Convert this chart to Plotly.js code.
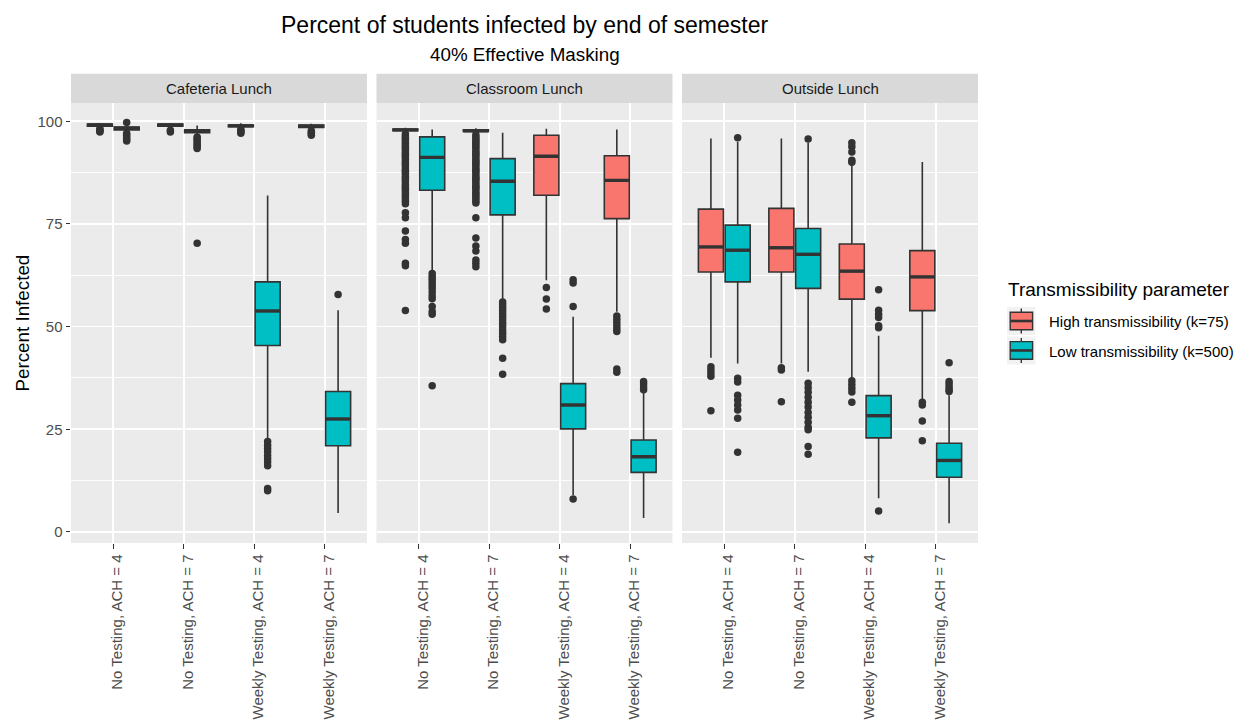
<!DOCTYPE html>
<html>
<head>
<meta charset="utf-8">
<script src="https://cdn.plot.ly/plotly-3.0.1.min.js"></script>
<style>html,body{margin:0;padding:0;background:#fff;}#chart{width:1239px;height:726px;}</style>
</head>
<body>
<div id="chart"></div>
<script>
// ---------------- data ----------------
const categories = ["No Testing, ACH = 4", "No Testing, ACH = 7", "Weekly Testing, ACH = 4", "Weekly Testing, ACH = 7"];
const panels = ["Cafeteria Lunch", "Classroom Lunch", "Outside Lunch"];
const groupNames = ["High transmissibility (k=75)", "Low transmissibility (k=500)"];
const legendTitle = "Transmissibility parameter";

// box stats per category: [lower whisker, q1, median, q3, upper whisker]
const cafeteriaHighStats = [[98.4, 98.8, 99.1, 99.3, 99.6], [98.3, 98.8, 99.1, 99.3, 99.6], [98.2, 98.7, 98.9, 99.1, 99.5], [98.0, 98.5, 98.8, 99.1, 99.4]];
const cafeteriaLowStats  = [[97.4, 97.9, 98.3, 98.6, 99.2], [96.7, 97.2, 97.6, 97.9, 99.0], [22.5, 45.4, 53.8, 60.9, 81.9], [4.6, 21.0, 27.5, 34.2, 54.0]];
const classroomHighStats = [[97.3, 97.7, 97.9, 98.1, 98.4], [97.1, 97.5, 97.7, 97.9, 98.3], [61.3, 82.0, 91.5, 96.6, 98.2], [53.6, 76.3, 85.6, 91.6, 98.0]];
const classroomLowStats  = [[63.8, 83.2, 91.2, 96.2, 98.0], [56.4, 77.2, 85.4, 90.9, 97.2], [9.0, 25.1, 30.9, 36.1, 52.4], [3.4, 14.5, 18.3, 22.4, 33.8]];
const outsideHighStats   = [[42.4, 63.3, 69.4, 78.6, 95.8], [41.0, 63.3, 69.2, 78.8, 95.8], [37.4, 56.7, 63.5, 70.1, 89.5], [32.1, 53.9, 62.1, 68.5, 90.1]];
const outsideLowStats    = [[41.0, 60.9, 68.6, 74.7, 95.0], [39.0, 59.3, 67.6, 73.9, 94.8], [8.2, 22.9, 28.3, 33.2, 47.8], [2.1, 13.3, 17.4, 21.6, 33.3]];

// outliers per category
const cafeteriaHighOutliers = [[98.2, 97.9, 97.6, 97.4], [97.8, 97.4], [98.0, 97.7, 97.4, 97.1], [97.7, 97.3, 96.9, 96.6]];
const cafeteriaLowOutliers  = [[99.7, 97.1, 96.6, 96.1, 95.6, 95.2], [96.2, 95.8, 95.3, 94.8, 94.3, 93.8, 93.4, 70.3], [22.0, 21.1, 20.3, 19.5, 18.6, 17.8, 17.0, 16.1, 10.6, 10.0], [57.8]];
const classroomHighOutliers = [
  [96.9, 96.4, 96.0, 95.6, 95.1, 94.6, 94.1, 93.7, 93.2, 92.6, 92.1, 91.7, 91.2, 90.6, 90.1, 89.7, 89.2, 88.6, 88.1, 87.7, 87.2, 86.6, 86.1, 85.7, 85.2, 84.6, 84.1, 83.7, 83.2, 82.6, 82.1, 81.6, 81.1, 80.5, 79.9, 77.7, 76.5, 73.3, 71.2, 70.3, 65.4, 64.8, 53.9],
  [96.7, 96.2, 95.7, 95.2, 94.8, 94.3, 93.8, 93.3, 92.7, 92.2, 91.8, 91.3, 90.7, 90.2, 89.8, 89.3, 88.7, 88.2, 87.8, 87.3, 86.7, 86.2, 85.8, 85.3, 84.7, 84.2, 83.8, 83.3, 82.7, 82.2, 81.7, 81.2, 80.6, 80.1, 76.5, 71.6, 69.6, 68.4, 66.2, 65.4, 64.6],
  [59.5, 56.7, 54.3],
  [52.6, 51.8, 51.0, 50.2, 49.5, 48.8, 39.7, 38.9]];
const classroomLowOutliers  = [
  [62.9, 62.2, 61.5, 60.8, 60.0, 59.3, 58.4, 57.5, 56.8, 54.9, 53.7, 53.0, 35.6],
  [56.0, 55.3, 54.6, 53.9, 53.1, 52.4, 51.6, 50.8, 50.0, 49.2, 48.4, 47.6, 46.8, 42.3, 38.4],
  [61.4, 60.6, 54.9, 8.0],
  [36.6, 36.0, 35.3, 34.6]];
const outsideHighOutliers = [[40.2, 39.4, 38.7, 37.9, 29.5], [40.0, 39.4, 31.7], [94.8, 93.8, 92.5, 90.5, 90.0, 36.8, 35.9, 35.0, 34.1, 31.6], [31.6, 30.9, 27.0, 22.2]];
const outsideLowOutliers  = [
  [96.0, 37.4, 36.5, 33.3, 32.1, 30.9, 29.7, 27.7, 19.4],
  [95.7, 36.2, 35.1, 34.0, 32.8, 31.6, 30.4, 29.1, 27.9, 26.7, 25.5, 24.9, 20.8, 18.9],
  [59.0, 54.0, 53.0, 52.2, 50.2, 49.7, 5.1],
  [41.2, 36.6, 36.0, 35.3, 34.6, 34.2]];

const yTicks = [0, 25, 50, 75, 100];

// ---------------- build ----------------
const fills = ["#F8766D", "#00BFC4"];
const lineCol = "#333333";
const boxW = 0.355, dodge = 0.19;
const statsByPanel = [[cafeteriaHighStats, cafeteriaLowStats], [classroomHighStats, classroomLowStats], [outsideHighStats, outsideLowStats]];
const outByPanel = [[cafeteriaHighOutliers, cafeteriaLowOutliers], [classroomHighOutliers, classroomLowOutliers], [outsideHighOutliers, outsideLowOutliers]];

const traces = [];
const medTraces = [];
const outTraces = [];
panels.forEach((p, pi) => {
  const xa = pi === 0 ? "x" : "x" + (pi + 1);
  const ya = pi === 0 ? "y" : "y" + (pi + 1);
  [0, 1].forEach(g => {
    const st = statsByPanel[pi][g];
    const pos = categories.map((c, ci) => ci + (g === 0 ? -dodge : dodge));
    traces.push({
      type: "box", xaxis: xa, yaxis: ya,
      name: groupNames[g], legendgroup: "g" + g, showlegend: false,
      x: pos,
      lowerfence: st.map(s => s[0]), q1: st.map(s => s[1]), median: st.map(s => s[2]),
      q3: st.map(s => s[3]), upperfence: st.map(s => s[4]),
      width: boxW, whiskerwidth: 0, boxpoints: false,
      fillcolor: fills[g], line: {color: lineCol, width: 1.6},
      hoverinfo: "skip"
    });
    const mx = [], my = [];
    st.forEach((s, ci) => { mx.push(pos[ci] - boxW / 2, pos[ci] + boxW / 2, null); my.push(s[2], s[2], null); });
    medTraces.push({type: "scatter", mode: "lines", xaxis: xa, yaxis: ya, x: mx, y: my,
      line: {color: lineCol, width: 3.4}, showlegend: false, hoverinfo: "skip"});
    const ox = [], oy = [];
    outByPanel[pi][g].forEach((arr, ci) => arr.forEach(v => { ox.push(pos[ci]); oy.push(v); }));
    outTraces.push({type: "scatter", mode: "markers", xaxis: xa, yaxis: ya, x: ox, y: oy,
      marker: {color: lineCol, size: 7.5}, showlegend: false, hoverinfo: "skip"});
  });
});

const plotL = 71, plotW = 907, gapPx = 9.5, pw = (plotW - 2 * gapPx) / 3;
const doms = [0, 1, 2].map(i => [(i * (pw + gapPx)) / plotW, (i * (pw + gapPx) + pw) / plotW]);
const plotH = 440.6, plotTop = 102.7;
const py = yPix => (plotTop + plotH - yPix) / plotH; // paper y from page pixel
const px = xPix => (xPix - plotL) / plotW;           // paper x from page pixel

const fontFam = "Liberation Sans, Arial, Helvetica, sans-serif";
const layout = {
  width: 1239, height: 726,
  margin: {l: 71, r: 261, t: 103, b: 183, pad: 0},
  paper_bgcolor: "#FFFFFF", plot_bgcolor: "#EBEBEB",
  font: {family: fontFam, color: "#000000"},
  boxmode: "overlay", hovermode: false,
  showlegend: false,
  shapes: [], annotations: []
};
panels.forEach((p, pi) => {
  const sfx = pi === 0 ? "" : String(pi + 1);
  layout["xaxis" + sfx] = {
    domain: doms[pi], anchor: "y" + sfx, range: [-0.6, 3.6], automargin: false,
    tickmode: "array", tickvals: categories.map((c, i) => i), ticktext: categories,
    tickangle: -90, tickfont: {size: 15, color: "#4D4D4D", family: fontFam}, ticklabelshift: 4,
    ticks: "outside", ticklen: 4.5, tickcolor: lineCol, tickwidth: 1,
    showgrid: true, gridcolor: "#FFFFFF", gridwidth: 1.8, zeroline: false, showline: false, fixedrange: true
  };
  layout["yaxis" + sfx] = {
    domain: [0, 1], anchor: "x" + sfx, range: [-2.7, 104.45], automargin: false,
    tickmode: "array", tickvals: yTicks, ticktext: yTicks.map(String),
    showticklabels: pi === 0, tickfont: {size: 15, color: "#4D4D4D", family: fontFam},
    ticks: pi === 0 ? "outside" : "", ticklen: 4.5, tickcolor: lineCol, tickwidth: 1,
    showgrid: true, gridcolor: "#FFFFFF", gridwidth: 1.8, zeroline: false, showline: false, fixedrange: true,
    minor: {tickmode: "array", tickvals: [12.5, 37.5, 62.5, 87.5], showgrid: true, gridcolor: "#FFFFFF", gridwidth: 0.9, ticks: ""}
  };
  layout.shapes.push({type: "rect", xref: "x" + sfx + " domain", yref: "paper", x0: 0, x1: 1, y0: 1, y1: py(73.3),
    fillcolor: "#D9D9D9", line: {width: 0}, layer: "above"});
  layout.annotations.push({text: p, xref: "x" + sfx + " domain", yref: "paper", x: 0.5, y: py(88), xanchor: "center", yanchor: "middle",
    showarrow: false, font: {size: 15, color: "#1A1A1A", family: fontFam}});
});
layout.annotations.push({text: "Percent of students infected by end of semester", xref: "paper", yref: "paper", x: 0.5, y: py(25),
  xanchor: "center", yanchor: "middle", showarrow: false, font: {size: 23, color: "#000000", family: fontFam}});
layout.annotations.push({text: "40% Effective Masking", xref: "paper", yref: "paper", x: 0.5, y: py(54),
  xanchor: "center", yanchor: "middle", showarrow: false, font: {size: 18.8, color: "#000000", family: fontFam}});
layout.annotations.push({text: "Percent Infected", xref: "paper", yref: "paper", x: px(21.5), y: 0.5, textangle: -90,
  xanchor: "center", yanchor: "middle", showarrow: false, font: {size: 18.8, color: "#000000", family: fontFam}});

// ---- legend (ggplot style keys) ----
layout.annotations.push({text: legendTitle, xref: "paper", yref: "paper", x: px(1006), y: py(289),
  xanchor: "left", yanchor: "middle", showarrow: false, font: {size: 19, color: "#000000", family: fontFam}});
const keyTops = [307, 336.5];
groupNames.forEach((nm, g) => {
  const t = keyTops[g], b = t + 28, cx = 1021.3, mid = (t + b) / 2;
  layout.shapes.push({type: "rect", xref: "paper", yref: "paper", x0: px(1007), x1: px(1035.5), y0: py(b), y1: py(t),
    fillcolor: "#F2F2F2", line: {width: 0}});
  layout.shapes.push({type: "line", xref: "paper", yref: "paper", x0: px(cx), x1: px(cx), y0: py(t + 1.5), y1: py(b - 1.5),
    line: {color: lineCol, width: 1.4}});
  layout.shapes.push({type: "rect", xref: "paper", yref: "paper", x0: px(1010.2), x1: px(1032.6), y0: py(mid + 8.8), y1: py(mid - 8.8),
    fillcolor: fills[g], line: {color: lineCol, width: 1.4}});
  layout.shapes.push({type: "line", xref: "paper", yref: "paper", x0: px(1010.2), x1: px(1032.6), y0: py(mid), y1: py(mid),
    line: {color: lineCol, width: 2.6}});
  layout.annotations.push({text: nm, xref: "paper", yref: "paper", x: px(1046.5), y: py(mid + 0.8),
    xanchor: "left", yanchor: "middle", showarrow: false, font: {size: 15, color: "#000000", family: fontFam}});
});

Plotly.newPlot("chart", traces.concat(medTraces, outTraces), layout, {staticPlot: true, displayModeBar: false});
</script>
</body>
</html>
